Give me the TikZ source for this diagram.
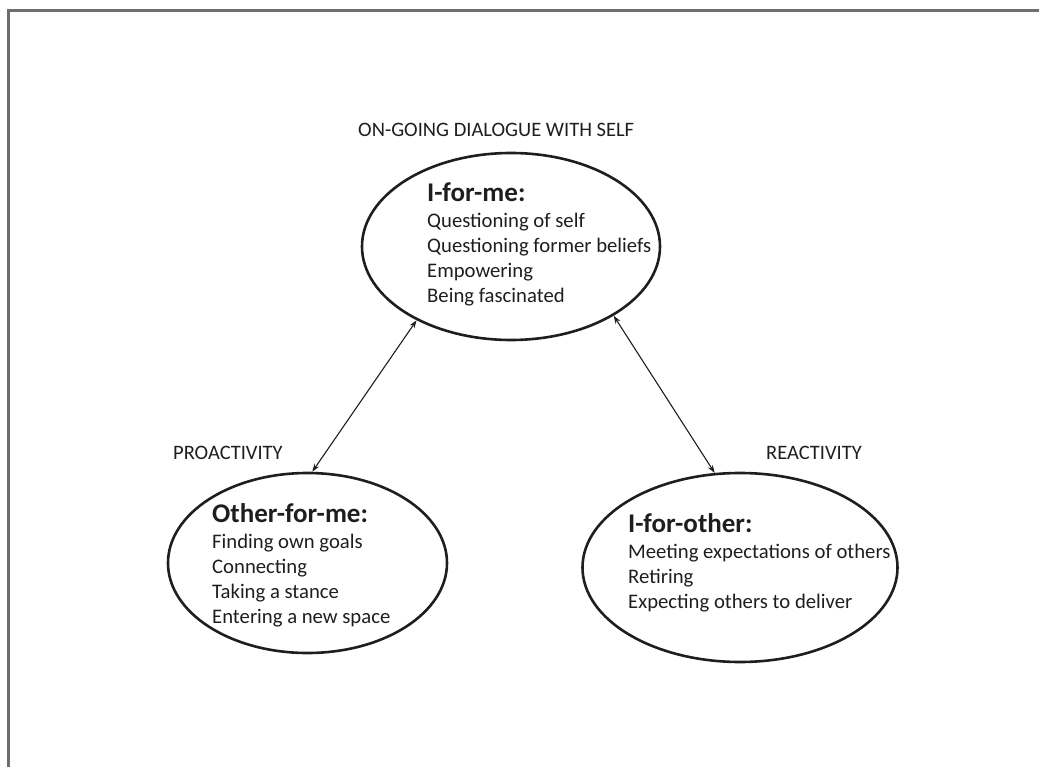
\documentclass[tikz,border=0pt]{standalone}
\usepackage{fontspec}
\setmainfont{Carlito}
\usetikzlibrary{shapes.geometric,arrows.meta}
\definecolor{framegray}{RGB}{110,110,110}
\definecolor{ink}{RGB}{30,30,30}
\newcommand{\headfont}{\fontsize{27}{27}\selectfont\bfseries}
\begin{document}
\begin{tikzpicture}[x=1pt,y=-1pt,
  bubble/.style={ellipse,draw=ink,line width=2.6pt,inner sep=0pt},
  caption/.style={anchor=base west,inner sep=0pt,font=\fontsize{20.5}{24}\selectfont,text=ink},
  % multi-line blocks are placed by the baseline of their last line
  body/.style={anchor=base west,inner sep=0pt,align=left,font=\fontsize{20.7}{25}\selectfont,text=ink},
  link/.style={{Stealth[length=8pt,width=5.5pt]}-{Stealth[length=8pt,width=5.5pt]},line width=1.1pt,draw=ink}]
\useasboundingbox (0,0) rectangle (1039,767);
% page frame (top and left edges)
\draw[framegray,line width=3.2pt] (8.5,767) -- (8.5,10.5) -- (1039,10.5);

% the three positions
\node[bubble,minimum width=298pt,minimum height=187pt] (forme) at (511,246.5) {};
\node[bubble,minimum width=279pt,minimum height=180pt] (otherforme) at (307.5,563) {};
\node[bubble,minimum width=315pt,minimum height=189pt] (forother) at (740,567.5) {};

% their contents
\node[body] (formetext) at (427,303) {{\headfont I-for-me:}\\[1pt]
  Questioning of self\\
  Questioning former beliefs\\
  Empowering\\
  Being fascinated};
\node[body] (otherformetext) at (212,623) {{\headfont Other-for-me:}\\[1pt]
  Finding own goals\\
  Connecting\\
  Taking a stance\\
  Entering a new space};
\node[body] (forothertext) at (628,608) {{\headfont I-for-other:}\\[1pt]
  Meeting expectations of others\\
  Retiring\\
  Expecting others to deliver};

% captions
\node[caption] (dialogue) at (358,137) {ON-GOING DIALOGUE WITH SELF};
\node[caption] (proactivity) at (173,459) {PROACTIVITY};
\node[caption] (reactivity) at (766,459) {REACTIVITY};

% two-way links
\draw[link] (forme.218) -- (otherforme.87);
\draw[link] (forme.326) -- (forother.105);
\end{tikzpicture}
\end{document}
